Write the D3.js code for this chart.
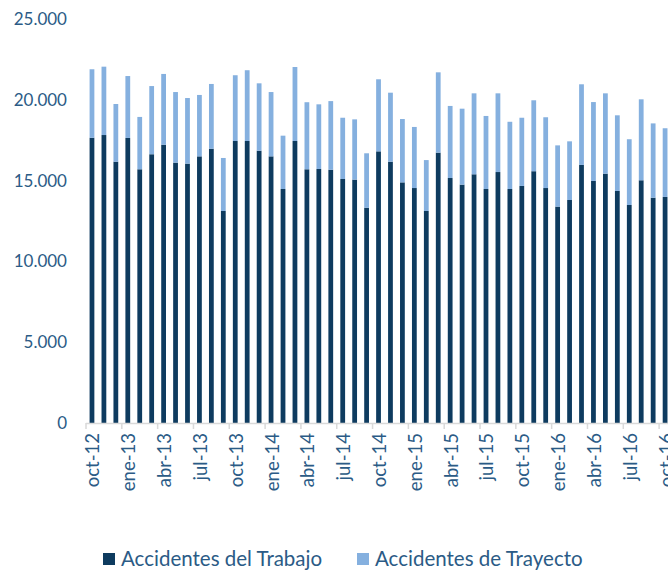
<!DOCTYPE html>
<html>
<head>
<meta charset="utf-8">
<script src="https://cdn.jsdelivr.net/npm/d3@7"></script>
<style>
  body { margin: 0; background: #fff; }
  svg text { font-family: Lato, "Open Sans", sans-serif; fill: #2b5b86; }
</style>
</head>
<body>
<svg id="chart" width="668" height="571"></svg>
<script>
const months = ["oct-12","nov-12","dic-12","ene-13","feb-13","mar-13","abr-13","may-13","jun-13","jul-13","ago-13","sep-13",
                "oct-13","nov-13","dic-13","ene-14","feb-14","mar-14","abr-14","may-14","jun-14","jul-14","ago-14","sep-14",
                "oct-14","nov-14","dic-14","ene-15","feb-15","mar-15","abr-15","may-15","jun-15","jul-15","ago-15","sep-15",
                "oct-15","nov-15","dic-15","ene-16","feb-16","mar-16","abr-16","may-16","jun-16","jul-16","ago-16","sep-16",
                "oct-16"]

// accidentes del trabajo
const trabajo = [17650,17820,16170,17640,15700,16630,17220,16110,16050,16500,16970,13120,
                 17450,17450,16850,16500,14480,17450,15700,15720,15670,15100,15060,13320,
                 16810,16170,14890,14540,13120,16730,15160,14750,15390,14480,15530,14480,
                 14670,15580,14540,13390,13800,15970,14980,15430,14360,13490,15020,13940,
                 13990]

// accidentes de trayecto
const trayecto = [4240,4230,3570,3830,3240,4220,4380,4370,4060,3800,4010,3280,
                  4070,4380,4170,3980,3300,4580,4150,4000,4250,3790,3730,3370,
                  4460,4270,3920,3780,3150,4970,4460,4700,5010,4520,4870,4160,
                  4220,4390,4380,3790,3630,4990,4880,4970,4680,4070,5010,4600,
                  4250]

const yTicks = [0, 5000, 10000, 15000, 20000, 25000]
const tickLabels = ["0","5.000","10.000","15.000","20.000","25.000"]
const seriesNames = ["Accidentes del Trabajo", "Accidentes de Trayecto"]
const colors = ["#0e3b5f", "#85b0df"]

const rows = months.map((m, i) => ({month: m, trabajo: trabajo[i], trayecto: trayecto[i]}))
const stacked = d3.stack().keys(["trabajo", "trayecto"])(rows)

const svg = d3.select("#chart")
const plotLeft = 86, plotBottom = 423, plotTop = 19
const band = 11.94

const x = d3.scaleBand().domain(months)
            .range([plotLeft, plotLeft + band * months.length])
            .paddingInner(0.6).paddingOuter(0.3)
const y = d3.scaleLinear().domain([0, 25000]).range([plotBottom, plotTop])

// y labels
svg.selectAll("text.ylab")
    .data(yTicks)
    .join("text")
    .attr("class", "ylab")
    .attr("x", 67)
    .attr("y", d => y(d))
    .attr("dy", "0.35em")
    .attr("text-anchor", "end")
    .style("font-size", "17px")
    .text((d, i) => tickLabels[i])

// bars
svg.append("g").selectAll("g")
    .data(stacked)
    .join("g")
    .attr("fill", (d, i) => colors[i])
    .selectAll("rect")
    .data(d => d)
    .join("rect")
    .attr("x", d => x(d.data.month))
    .attr("width", x.bandwidth())
    .attr("y", d => y(d[1]))
    .attr("height", d => y(d[0]) - y(d[1]))

// x axis line and ticks every 3 months
svg.append("line")
    .attr("x1", plotLeft).attr("x2", 668)
    .attr("y1", plotBottom + 0.5).attr("y2", plotBottom + 0.5)
    .attr("stroke", "#d9d9d9").attr("stroke-width", 1.5)

const boundaries = d3.range(0, months.length + 1, 3)
svg.selectAll("line.tick")
    .data(boundaries)
    .join("line")
    .attr("class", "tick")
    .attr("x1", d => plotLeft + d * band).attr("x2", d => plotLeft + d * band)
    .attr("y1", plotBottom).attr("y2", plotBottom + 6)
    .attr("stroke", "#d9d9d9").attr("stroke-width", 1.5)

// x labels
const labelled = months.filter((m, i) => i % 3 == 0)
svg.selectAll("text.xlab")
    .data(labelled)
    .join("text")
    .attr("class", "xlab")
    .attr("transform", d => `translate(${x(d) + x.bandwidth() / 2 + 1}, 433) rotate(-90)`)
    .attr("dy", "0.35em")
    .attr("text-anchor", "end")
    .style("font-size", "18.5px")
    .text(d => d)

// legend
const legendX = [103, 357]
const legend = svg.selectAll("g.legend")
    .data(seriesNames)
    .join("g")
    .attr("class", "legend")
    .attr("transform", (d, i) => `translate(${legendX[i]}, 553)`)
legend.append("rect")
    .attr("width", 12).attr("height", 12)
    .attr("fill", (d, i) => colors[i])
legend.append("text")
    .attr("x", 18).attr("y", 6)
    .attr("dy", "0.36em")
    .style("font-size", "20.5px")
    .text(d => d)
</script>
</body>
</html>
